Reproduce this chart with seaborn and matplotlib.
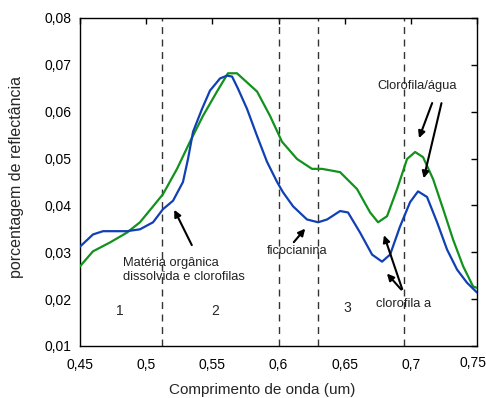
import numpy as np
import pandas as pd
import seaborn as sns
import matplotlib.pyplot as plt
import matplotlib.transforms as mtransforms
from matplotlib.ticker import FuncFormatter

# curva azul
azul_x = [0.450, 0.4598, 0.4674, 0.4855, 0.4953, 0.5052, 0.5127, 0.5203, 0.5278,
          0.5316, 0.5354, 0.5422, 0.5482, 0.5558, 0.5611, 0.5649, 0.5694, 0.5762,
          0.5838, 0.5913, 0.5989, 0.6034, 0.6110, 0.6215, 0.6299, 0.6367, 0.6465,
          0.6525, 0.6616, 0.6707, 0.6782, 0.6843, 0.6918, 0.6994, 0.7054, 0.7122,
          0.7198, 0.7273, 0.7349, 0.7424, 0.750]
azul_y = [0.0312, 0.0338, 0.0345, 0.0345, 0.0349, 0.0364, 0.0392, 0.0410, 0.0450,
          0.0499, 0.0557, 0.0606, 0.0645, 0.0671, 0.0677, 0.0675, 0.0649, 0.0606,
          0.0548, 0.0493, 0.0450, 0.0428, 0.0398, 0.0370, 0.0364, 0.0370, 0.0388,
          0.0385, 0.0342, 0.0295, 0.0280, 0.0295, 0.0355, 0.0407, 0.0430, 0.0418,
          0.0364, 0.0306, 0.0263, 0.0235, 0.0214]

# curva verde
verde_x = [0.450, 0.4598, 0.4727, 0.4855, 0.4953, 0.5052, 0.5127, 0.5233, 0.5331,
           0.5429, 0.5535, 0.5618, 0.5686, 0.5838, 0.5936, 0.6026, 0.6140, 0.6253,
           0.6329, 0.6465, 0.6593, 0.6692, 0.6752, 0.6820, 0.6896, 0.6971, 0.7032,
           0.7092, 0.7168, 0.7244, 0.7319, 0.7395, 0.7470, 0.750]
verde_y = [0.0270, 0.0302, 0.0321, 0.0342, 0.0364, 0.0398, 0.0424, 0.0478, 0.0536,
           0.0591, 0.0643, 0.0682, 0.0682, 0.0643, 0.0591, 0.0536, 0.0499, 0.0478,
           0.0478, 0.0471, 0.0435, 0.0385, 0.0364, 0.0377, 0.0435, 0.0499, 0.0514,
           0.0503, 0.0456, 0.0392, 0.0327, 0.0270, 0.0227, 0.0224]

limites = [0.512, 0.6, 0.63, 0.695]
xticks = [0.45, 0.5, 0.55, 0.6, 0.65, 0.7, 0.75]
yticks = [0.01, 0.02, 0.03, 0.04, 0.05, 0.06, 0.07, 0.08]

sns.set_style('white')
plt.rcParams['font.family'] = ['Liberation Sans', 'DejaVu Sans']

azul = pd.DataFrame({'x': azul_x, 'y': azul_y})
verde = pd.DataFrame({'x': verde_x, 'y': verde_y})

fig = plt.figure(figsize=(4.86, 3.98), dpi=100)
ax = fig.add_axes([0.1646, 0.1307, 0.817, 0.8241])

for v in limites:
    ax.axvline(v, color='#333333', lw=1, ls=(0, (5, 4)), zorder=1)

sns.lineplot(data=verde, x='x', y='y', ax=ax, color='#12921c', lw=1.6,
             estimator=None, sort=False, zorder=3)
sns.lineplot(data=azul, x='x', y='y', ax=ax, color='#1040b4', lw=1.6,
             estimator=None, sort=False, zorder=3)

ax.set_xlim(0.45, 0.75)
ax.set_ylim(0.01, 0.08)
ax.set_xticks(xticks)
ax.set_yticks(yticks)
fmt = FuncFormatter(lambda v, p: ('%g' % round(v, 3)).replace('.', ','))
ax.xaxis.set_major_formatter(fmt)
ax.yaxis.set_major_formatter(fmt)
ax.tick_params(direction='in', length=4, width=1, top=True, right=True,
               labelsize=10, colors='black')
ax.tick_params(axis='x', pad=9)
ax.tick_params(axis='y', pad=6)
for s in ax.spines.values():
    s.set_color('black')
    s.set_linewidth(1)

# último rótulo do eixo x um pouco à esquerda, como no original
ult = ax.get_xticklabels()[-1]
ult.set_transform(ult.get_transform() +
                  mtransforms.ScaledTranslation(-4 / 100, 2 / 100, fig.dpi_scale_trans))

ax.set_xlabel('Comprimento de onda (um)', fontsize=11)
ax.set_ylabel('porcentagem de reflectância', fontsize=11.5)
ax.xaxis.set_label_coords(0.459, -0.112)
ax.yaxis.set_label_coords(-0.142, 0.515)

arrow = dict(arrowstyle='-|>', color='black', lw=1.5, mutation_scale=10)
txt = dict(fontsize=9.3, color='#222222')

ax.text(0.4825, 0.0262, 'Matéria orgânica\ndissolvida e clorofilas',
        ha='left', va='center', linespacing=1.25, **txt)
ax.annotate('', xy=(0.5203, 0.0396), xytext=(0.5354, 0.0310), arrowprops=arrow)

ax.text(0.6140, 0.0302, 'ficocianina', ha='center', va='center', **txt)
ax.annotate('', xy=(0.6215, 0.0355), xytext=(0.6102, 0.0317), arrowprops=arrow)

ax.text(0.7047, 0.0654, 'Clorofila/água', ha='center', va='center', **txt)
ax.annotate('', xy=(0.7054, 0.0538), xytext=(0.7168, 0.0624), arrowprops=arrow)
ax.annotate('', xy=(0.7092, 0.0452), xytext=(0.7236, 0.0624), arrowprops=arrow)

ax.text(0.6941, 0.0190, 'clorofila a', ha='center', va='center', **txt)
ax.annotate('', xy=(0.6790, 0.0342), xytext=(0.6941, 0.0216), arrowprops=arrow)
ax.annotate('', xy=(0.6805, 0.0259), xytext=(0.6941, 0.0216), arrowprops=arrow)

ax.text(0.4802, 0.0175, '1', ha='center', va='center', fontsize=10)
ax.text(0.5520, 0.0175, '2', ha='center', va='center', fontsize=10)
ax.text(0.6518, 0.0182, '3', ha='center', va='center', fontsize=10)

fig.savefig('out.png', dpi=100)
